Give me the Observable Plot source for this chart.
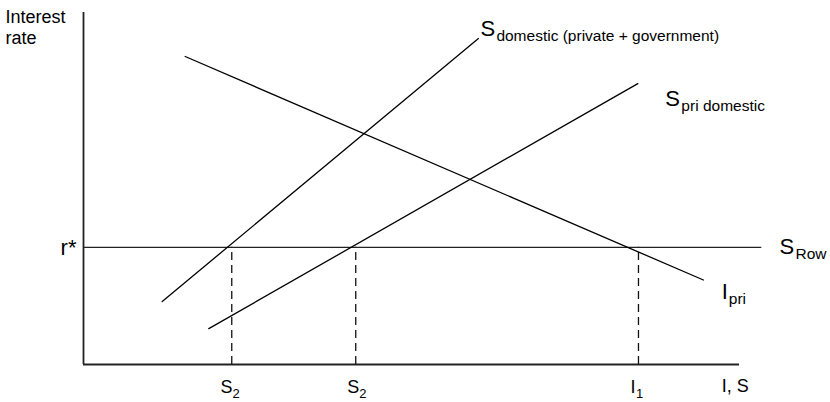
<!DOCTYPE html>
<html>
<head>
<meta charset="utf-8">
<script src="https://cdn.jsdelivr.net/npm/d3@7"></script>
<script src="https://cdn.jsdelivr.net/npm/@observablehq/plot@0.6"></script>
<style>
  html, body { margin: 0; padding: 0; background: #fff; }
  #chart svg { display: block; }
</style>
</head>
<body>
<div id="chart"></div>
<script>
// Schematic supply/investment curves (arbitrary units: quantity 0-100, rate 0-100)
const sDomestic = [{q: 12.0, r: 17.9}, {q: 60.2, r: 92.6}];
const sPriDomestic = [{q: 19.1, r: 10.2}, {q: 84.5, r: 79.8}];
const iPri = [{q: 15.5, r: 87.5}, {q: 94.5, r: 24.0}];
const rStar = 33.3;
const sRowEnd = 103.4;
const dashQ = [22.6, 41.5, 84.6];

// Curve labels: main letter + subscript
const curveLabels = [
  {q: 60.5, r: 93.2, main: "S", sub: "domestic (private + government)", subDx: 16},
  {q: 88.7, r: 73.3, main: "S", sub: "pri domestic", subDx: 16},
  {q: 106.1, r: 31.5, main: "S", sub: "Row", subDx: 16},
  {q: 97.3, r: 18.5, main: "I", sub: "pri", subDx: 7}
];
// Axis tick labels below the horizontal axis
const tickLabels = [
  {q: 20.9, r: -8.2, main: "S", sub: "2", subDx: 12},
  {q: 40.2, r: -8.2, main: "S", sub: "2", subDx: 12},
  {q: 83.4, r: -8.2, main: "I", sub: "1", subDx: 5.5}
];
const xAxisTitle = "I, S";
const yAxisTitle = "Interest\nrate";
const rStarLabel = "r*";

const font = "Liberation Sans, Arial, Helvetica, sans-serif";

const chart = Plot.plot({
  width: 830,
  height: 402,
  marginLeft: 83,
  marginRight: 91,
  marginTop: 12,
  marginBottom: 38,
  x: {domain: [0, 100], axis: null},
  y: {domain: [0, 100], axis: null},
  style: {fontFamily: font, background: "#fff", color: "#000", overflow: "visible"},
  marks: [
    // axes
    Plot.ruleX([0], {y1: 0, y2: 100, stroke: "#222", strokeWidth: 1.8}),
    Plot.ruleY([0], {x1: 0, x2: 100, stroke: "#222", strokeWidth: 1.8}),
    // dashed verticals
    Plot.ruleX(dashQ, {y1: 0, y2: rStar, stroke: "#111", strokeWidth: 1.3, strokeDasharray: "8,5"}),
    // S_Row horizontal
    Plot.ruleY([rStar], {x1: 0, x2: sRowEnd, stroke: "#222", strokeWidth: 1.3}),
    // curves
    Plot.line(sDomestic, {x: "q", y: "r", stroke: "#000", strokeWidth: 1.3}),
    Plot.line(sPriDomestic, {x: "q", y: "r", stroke: "#000", strokeWidth: 1.3}),
    Plot.line(iPri, {x: "q", y: "r", stroke: "#000", strokeWidth: 1.3}),
    // curve labels (main letter)
    Plot.text(curveLabels, {x: "q", y: "r", text: "main", textAnchor: "start", lineAnchor: "bottom", fontSize: 22}),
    // curve label subscripts
    ...curveLabels.map(d => Plot.text([d], {x: "q", y: "r", text: "sub", textAnchor: "start", lineAnchor: "bottom", fontSize: 15.5, dx: d.subDx, dy: 5})),
    // tick labels
    Plot.text(tickLabels, {x: "q", y: "r", text: "main", textAnchor: "start", lineAnchor: "bottom", fontSize: 18}),
    ...tickLabels.map(d => Plot.text([d], {x: "q", y: "r", text: "sub", textAnchor: "start", lineAnchor: "bottom", fontSize: 13, dx: d.subDx, dy: 5})),
    // axis titles
    Plot.text([{q: 97.3, r: -7.95}], {x: "q", y: "r", text: () => xAxisTitle, textAnchor: "start", lineAnchor: "bottom", fontSize: 18}),
    Plot.text([{q: -11.9, r: 101.4}], {x: "q", y: "r", text: () => yAxisTitle, textAnchor: "start", lineAnchor: "top", fontSize: 18, lineHeight: 1.2}),
    Plot.text([{q: -1.07, r: 31.0}], {x: "q", y: "r", text: () => rStarLabel, textAnchor: "end", lineAnchor: "bottom", fontSize: 22})
  ]
});

document.getElementById("chart").appendChild(chart);
</script>
</body>
</html>
